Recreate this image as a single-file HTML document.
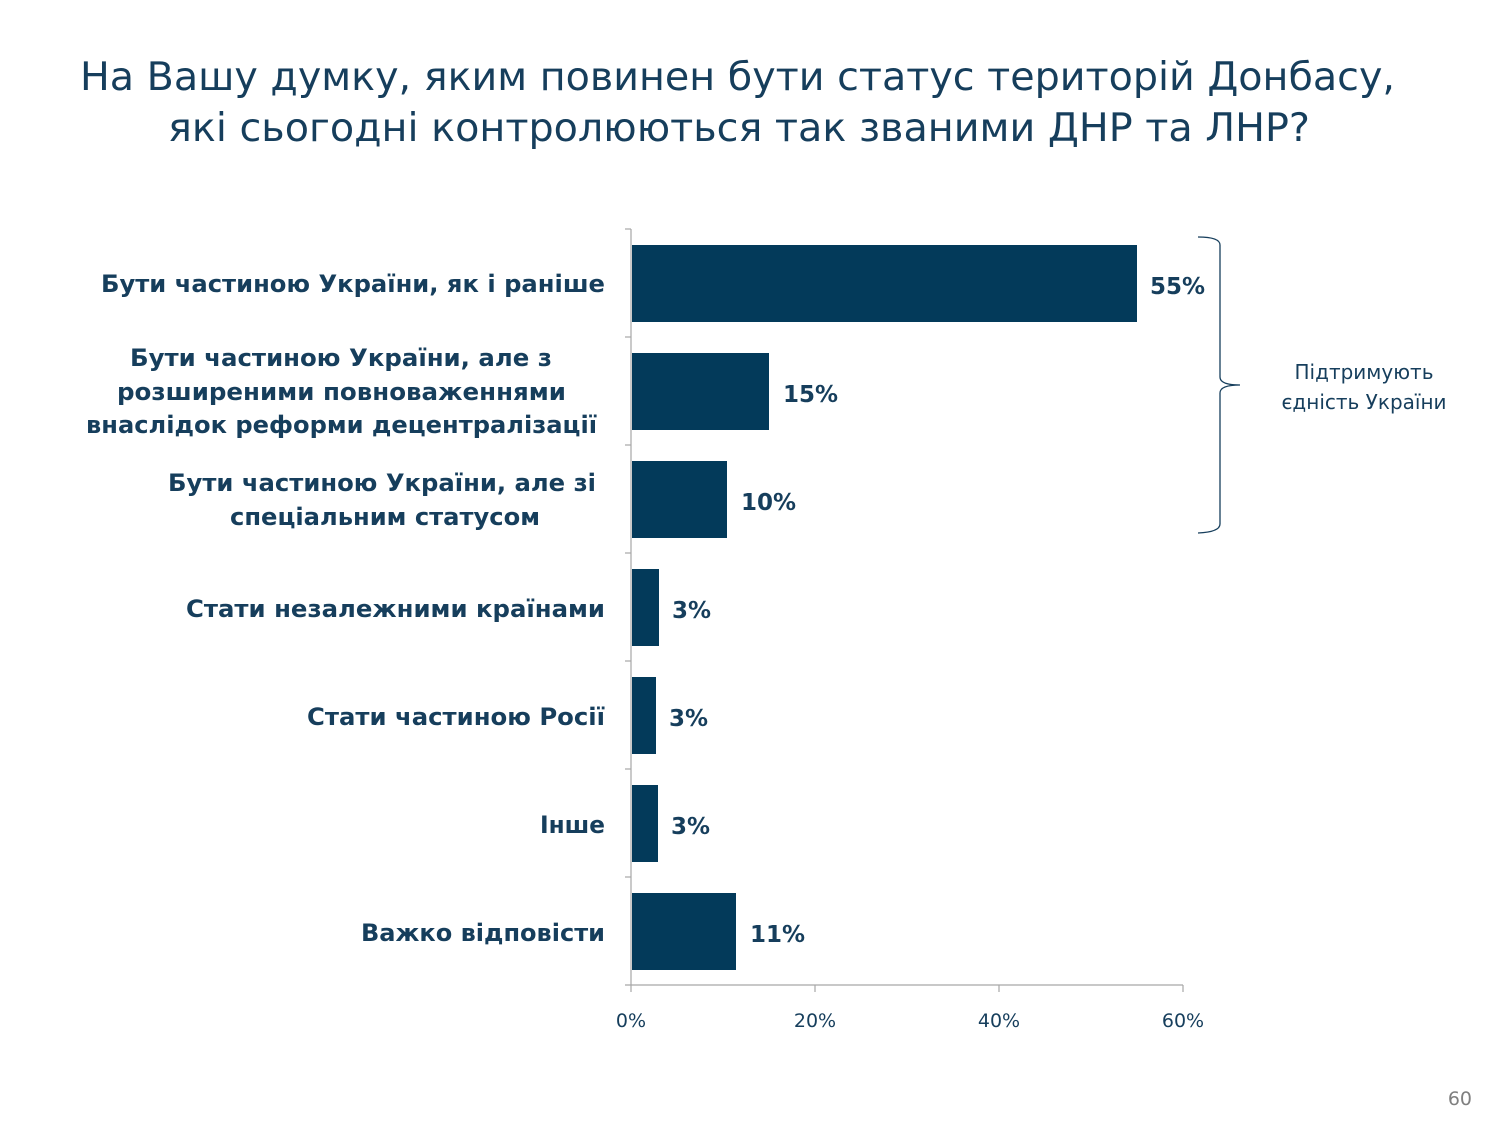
<!DOCTYPE html>
<html><head><meta charset="utf-8"><style>
html,body{margin:0;padding:0;background:#fff;}
svg{display:block;}
</style></head><body>
<svg width="1500" height="1125" xmlns="http://www.w3.org/2000/svg" font-family="'DejaVu Sans','Liberation Sans',sans-serif">
<text x="80" y="90" font-size="39" fill="#163e5c" textLength="1315" lengthAdjust="spacingAndGlyphs">На Вашу думку, яким повинен бути статус територій Донбасу,</text>
<text x="168" y="141" font-size="39" fill="#163e5c" textLength="1142" lengthAdjust="spacingAndGlyphs">які сьогодні контролюються так званими ДНР та ЛНР?</text>
<g stroke="#a6a6a6" stroke-width="1.2">
<line x1="631" y1="229" x2="631" y2="985"/>
<line x1="625" y1="985" x2="1183" y2="985"/>
<line x1="625" y1="229" x2="631" y2="229"/><line x1="625" y1="337" x2="631" y2="337"/>
<line x1="625" y1="445" x2="631" y2="445"/><line x1="625" y1="553" x2="631" y2="553"/>
<line x1="625" y1="661" x2="631" y2="661"/><line x1="625" y1="769" x2="631" y2="769"/>
<line x1="625" y1="877" x2="631" y2="877"/>
<line x1="631" y1="985" x2="631" y2="992"/><line x1="815" y1="985" x2="815" y2="992"/>
<line x1="999" y1="985" x2="999" y2="992"/><line x1="1183" y1="985" x2="1183" y2="992"/>
</g>
<g fill="#033a5a">
<rect x="632" y="245" width="505" height="77"/>
<rect x="632" y="353" width="137" height="77"/>
<rect x="632" y="461" width="95" height="77"/>
<rect x="632" y="569" width="27" height="77"/>
<rect x="632" y="677" width="24" height="77"/>
<rect x="632" y="785" width="26" height="77"/>
<rect x="632" y="893" width="104" height="77"/>
</g>
<g font-size="23" font-weight="bold" fill="#163e5c">
<text x="1150" y="294">55%</text>
<text x="783" y="402">15%</text>
<text x="741" y="510">10%</text>
<text x="672" y="618">3%</text>
<text x="669" y="726">3%</text>
<text x="671" y="834">3%</text>
<text x="750" y="942">11%</text>
</g>
<g font-size="24" font-weight="bold" fill="#163e5c" lengthAdjust="spacingAndGlyphs">
<text x="101" y="292" textLength="504" lengthAdjust="spacingAndGlyphs">Бути частиною України, як і раніше</text>
<text x="130" y="366" textLength="422" lengthAdjust="spacingAndGlyphs">Бути частиною України, але з</text>
<text x="117" y="400" textLength="449" lengthAdjust="spacingAndGlyphs">розширеними повноваженнями</text>
<text x="86" y="433" textLength="511" lengthAdjust="spacingAndGlyphs">внаслідок реформи децентралізації</text>
<text x="168" y="491" textLength="428" lengthAdjust="spacingAndGlyphs">Бути частиною України, але зі</text>
<text x="230" y="525" textLength="310" lengthAdjust="spacingAndGlyphs">спеціальним статусом</text>
<text x="186" y="617" textLength="419" lengthAdjust="spacingAndGlyphs">Стати незалежними країнами</text>
<text x="307" y="725" textLength="298" lengthAdjust="spacingAndGlyphs">Стати частиною Росії</text>
<text x="540" y="833" textLength="65" lengthAdjust="spacingAndGlyphs">Інше</text>
<text x="361" y="941" textLength="244" lengthAdjust="spacingAndGlyphs">Важко відповісти</text>
</g>
<g font-size="19" fill="#163e5c" text-anchor="middle">
<text x="631" y="1027">0%</text><text x="815" y="1027">20%</text>
<text x="999" y="1027">40%</text><text x="1183" y="1027">60%</text>
</g>
<path d="M1198 237 Q1220 237 1220 245 L1220 377 Q1220 385 1240 385 Q1220 385 1220 393 L1220 524 Q1220 532 1198 533" fill="none" stroke="#163e5c" stroke-width="1.3"/>
<g font-size="20" fill="#163e5c" text-anchor="middle">
<text x="1364" y="379">Підтримують</text>
<text x="1364" y="409">єдність України</text>
</g>
<text x="1472" y="1105" text-anchor="end" font-size="19" fill="#7f7f7f">60</text>
</svg>
</body></html>
